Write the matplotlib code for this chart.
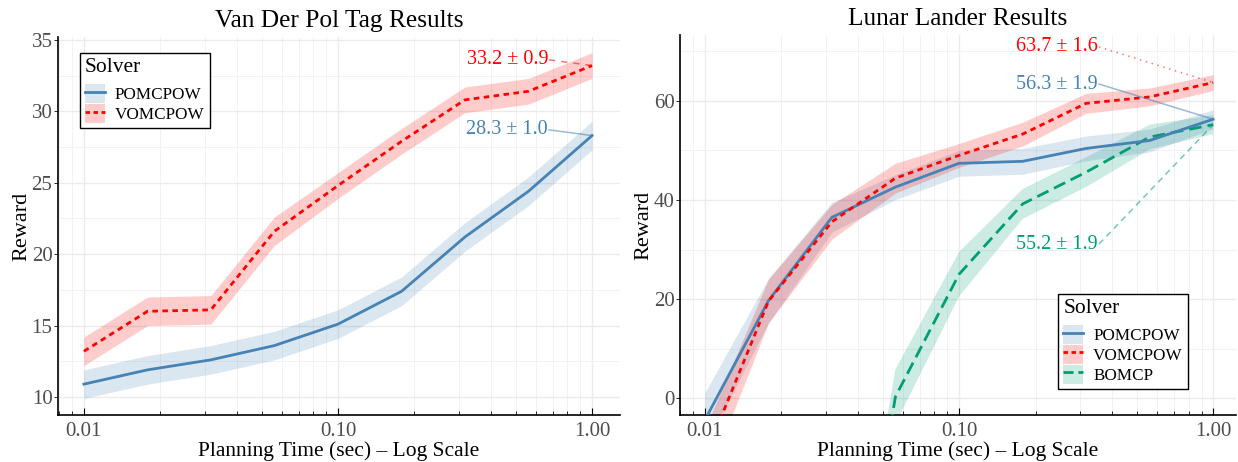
import matplotlib
matplotlib.use("Agg")
import matplotlib.pyplot as plt
import numpy as np
from matplotlib.patches import Patch
from matplotlib.lines import Line2D
from matplotlib.ticker import FixedLocator, NullFormatter, FuncFormatter

plt.rcParams['font.family'] = ['Liberation Serif', 'DejaVu Serif']

# ---------------- data ----------------
planning_time = [0.01, 0.0178, 0.0316, 0.0562, 0.1, 0.178, 0.316, 0.562, 1.0]

vdp_pomcpow = [10.9, 11.9, 12.6, 13.6, 15.1, 17.4, 21.2, 24.4, 28.3]
vdp_pomcpow_se = [1.0, 1.0, 1.0, 1.0, 1.0, 1.0, 1.0, 1.0, 1.0]
vdp_vomcpow = [13.2, 16.0, 16.1, 21.6, 24.8, 27.9, 30.8, 31.4, 33.2]
vdp_vomcpow_se = [1.0, 1.0, 1.0, 1.0, 0.9, 0.9, 0.9, 0.9, 0.9]

ll_pomcpow = [-4.4, 19.7, 36.5, 42.6, 47.4, 47.8, 50.4, 52.0, 56.3]
ll_pomcpow_se = [5.5, 4.5, 3.0, 2.5, 2.6, 2.6, 2.5, 2.3, 1.9]
ll_vomcpow = [-11.8, 19.6, 35.6, 44.4, 49.0, 53.3, 59.5, 60.8, 63.7]
ll_vomcpow_se = [5.5, 4.4, 3.5, 3.0, 2.4, 2.4, 2.0, 1.8, 1.6]
ll_bomcp = [-120.0, -100.0, -77.0, 0.3, 25.0, 39.2, 45.6, 52.7, 55.2]
ll_bomcp_se = [8.0, 8.0, 8.0, 5.5, 4.5, 3.0, 3.0, 2.5, 1.9]

x_ticks = [0.01, 0.1, 1.0]
x_tick_labels = ["0.01", "0.10", "1.00"]

BLUE = "#4682B4"
RED = "#FF0000"
GREEN = "#009E73"
styles = {
    "POMCPOW": dict(color=BLUE, ls="-", dashes=None),
    "VOMCPOW": dict(color=RED, ls="--", dashes=(2.0, 1.6)),
    "BOMCP": dict(color=GREEN, ls="--", dashes=(4.5, 2.2)),
}

fig = plt.figure(figsize=(12.38, 4.62), dpi=100)
ax1 = fig.add_axes([58 / 1238, 47 / 462, 562 / 1238, 378 / 462])
ax2 = fig.add_axes([680 / 1238, 47 / 462, 556 / 1238, 380 / 462])


def style_axes(ax, xlim, ylim, yticks, yminor):
    ax.set_xscale("log")
    ax.set_xlim(*xlim)
    ax.set_ylim(*ylim)
    ax.xaxis.set_major_locator(FixedLocator(x_ticks))
    ax.xaxis.set_major_formatter(FuncFormatter(lambda v, p: x_tick_labels[x_ticks.index(v)] if v in x_ticks else ""))
    minors = [m * 10.0 ** e for e in (-3, -2, -1, 0) for m in range(2, 10)]
    ax.xaxis.set_minor_locator(FixedLocator(minors))
    ax.xaxis.set_minor_formatter(NullFormatter())
    ax.yaxis.set_major_locator(FixedLocator(yticks))
    ax.yaxis.set_minor_locator(FixedLocator(yminor))
    ax.grid(True, which="major", color="#EBEBEB", lw=1.0, zorder=0)
    ax.grid(True, which="minor", color="#F2F2F2", lw=0.7, zorder=0)
    ax.set_axisbelow(True)
    for s in ("top", "right"):
        ax.spines[s].set_visible(False)
    for s in ("left", "bottom"):
        ax.spines[s].set_color("black")
        ax.spines[s].set_linewidth(1.2)
    ax.tick_params(axis="x", which="major", direction="in", length=5, width=0.8,
                   labelsize=15, labelcolor="#4D4D4D", pad=5)
    ax.tick_params(axis="x", which="minor", direction="in", length=3, width=0.6)
    ax.tick_params(axis="y", which="major", direction="out", length=3, width=0.6,
                   labelsize=15, labelcolor="#4D4D4D", pad=1)
    ax.tick_params(axis="y", which="minor", length=0)
    ax.set_xlabel("Planning Time (sec) – Log Scale", fontsize=15.5, labelpad=0)
    ax.set_ylabel("Reward", fontsize=16, labelpad=0)


def draw(ax, name, mean, se):
    st = styles[name]
    m = np.array(mean)
    s = np.array(se)
    ax.fill_between(planning_time, m - s, m + s, color=st["color"], alpha=0.2, lw=0, zorder=2)
    ln, = ax.plot(planning_time, m, color=st["color"], lw=2, ls=st["ls"], zorder=3)
    if st["dashes"] is not None:
        ln.set_dashes(st["dashes"])


def label(ax, name, mean, se, tx, ty, lstyle):
    st = styles[name]
    txt = f"{mean[-1]:.1f} ± {se[-1]:.1f}"
    ax.text(tx, ty, txt, color=st["color"], fontsize=14.5, ha="right", va="center", zorder=5)
    ax.plot([tx * 1.01, planning_time[-1]], [ty, mean[-1]], color=st["color"], lw=1.1,
            alpha=0.55, ls=lstyle, zorder=4)


def legend(ax, names, **kw):
    handles = []
    for n in names:
        st = styles[n]
        ln = Line2D([0], [0], color=st["color"], lw=2, ls=st["ls"])
        if st["dashes"] is not None:
            ln.set_dashes((st["dashes"][0] * 0.8, st["dashes"][1] * 0.8))
        handles.append((Patch(facecolor=st["color"], alpha=0.2, edgecolor="none"), ln))
    leg = ax.legend(handles, names, title="Solver", fontsize=12.3, title_fontsize=15.5,
                    frameon=True, fancybox=False, edgecolor="black", framealpha=1,
                    handlelength=1.15, handleheight=1.35, handletextpad=0.6,
                    labelspacing=0.03, borderpad=0.3, borderaxespad=0, **kw)
    leg.get_frame().set_linewidth(1.0)
    leg._legend_box.align = "left"
    leg._legend_box.sep = 5
    return leg


# ---------------- left panel ----------------
style_axes(ax1, (10 ** -2.102, 10 ** 0.110), (8.74, 35.2),
           [10, 15, 20, 25, 30, 35], [12.5, 17.5, 22.5, 27.5, 32.5])
draw(ax1, "POMCPOW", vdp_pomcpow, vdp_pomcpow_se)
draw(ax1, "VOMCPOW", vdp_vomcpow, vdp_vomcpow_se)
label(ax1, "VOMCPOW", vdp_vomcpow, vdp_vomcpow_se, 0.671, 33.6, (0, (4, 4)))
label(ax1, "POMCPOW", vdp_pomcpow, vdp_pomcpow_se, 0.671, 28.7, "-")
ax1.set_title("Van Der Pol Tag Results", fontsize=18.3, pad=7.5)
legend(ax1, ["POMCPOW", "VOMCPOW"], loc="upper left",
       bbox_to_anchor=((80 - 58) / 562, (415 - 53) / 378))

# ---------------- right panel ----------------
style_axes(ax2, (10 ** -2.098, 10 ** 0.09), (-3.4, 73.3),
           [0, 20, 40, 60], [10, 30, 50, 70])
draw(ax2, "BOMCP", ll_bomcp, ll_bomcp_se)
draw(ax2, "POMCPOW", ll_pomcpow, ll_pomcpow_se)
draw(ax2, "VOMCPOW", ll_vomcpow, ll_vomcpow_se)
label(ax2, "VOMCPOW", ll_vomcpow, ll_vomcpow_se, 0.352, 70.9, (0, (1, 3)))
label(ax2, "POMCPOW", ll_pomcpow, ll_pomcpow_se, 0.352, 63.4, "-")
label(ax2, "BOMCP", ll_bomcp, ll_bomcp_se, 0.352, 31.1, (0, (4, 3)))
ax2.set_title("Lunar Lander Results", fontsize=18.3, pad=7.5)
legend(ax2, ["POMCPOW", "VOMCPOW", "BOMCP"], loc="lower right",
       bbox_to_anchor=((1188 - 680) / 556, (415 - 389) / 380))

fig.savefig("out.png", dpi=100)
